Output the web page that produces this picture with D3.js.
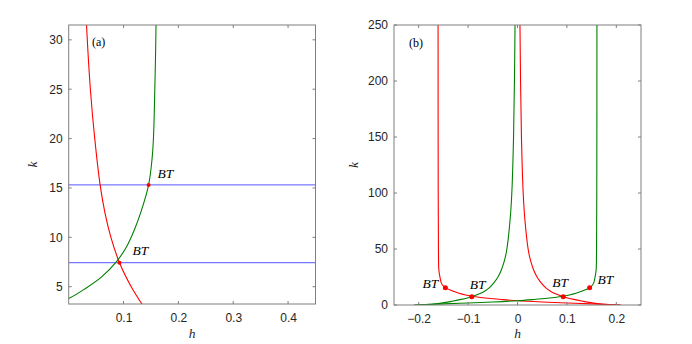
<!DOCTYPE html>
<html><head><meta charset="utf-8">
<script src="https://cdn.jsdelivr.net/npm/d3@7"></script>
<style>
body{margin:0;background:#fff;}
svg{display:block;}
.tick text{font-family:"Liberation Sans",Arial,sans-serif;font-size:12px;fill:#262626;}
</style></head>
<body><svg id="chart" width="692" height="344"></svg>
<script>
// ---- data (h, k) ----
const redRight = [[0.005,250],[0.0062,200],[0.008,150],[0.0115,100],[0.0152,75],[0.0215,50],[0.0262,40],[0.0325,31.5],[0.0395,25],[0.0475,20],[0.0573,15.31],[0.066,12.5],[0.077,10],[0.0926,7.43],[0.114,5],[0.1335,3.25],[0.148,2.1],[0.165,1.05],[0.185,0.35],[0.207,0]];
const greenRight = [[0.1608,250],[0.1605,100],[0.16,50],[0.1592,31.5],[0.157,25],[0.1545,20],[0.1518,17.84],[0.1457,15.31],[0.1325,12.7],[0.12,10.8],[0.105,9.0],[0.088,7.6],[0.06,6.0],[0.03,4.8],[0,3.8],[-0.05,2.7],[-0.1,1.85],[-0.15,1.0],[-0.21,0]];
const redLeft = [[-0.1608,250],[-0.1605,100],[-0.16,50],[-0.1592,31.5],[-0.157,25],[-0.1545,20],[-0.1518,17.84],[-0.1457,15.31],[-0.1325,12.7],[-0.12,10.8],[-0.105,9.0],[-0.088,7.6],[-0.06,6.0],[-0.03,4.8],[0,3.8],[0.05,2.7],[0.1,1.85],[0.15,1.0],[0.21,0]];
const greenLeft = [[-0.005,250],[-0.0062,200],[-0.008,150],[-0.0115,100],[-0.0152,75],[-0.0215,50],[-0.0262,40],[-0.0325,31.5],[-0.0395,25],[-0.0475,20],[-0.0573,15.31],[-0.066,12.5],[-0.077,10],[-0.0926,7.43],[-0.114,5],[-0.1335,3.25],[-0.148,2.1],[-0.165,1.05],[-0.185,0.35],[-0.207,0]];
const blueLevels = [7.43, 15.31];
const btA = [[0.0926,7.43],[0.1457,15.31]];
const btB = [[-0.146,15.31],[-0.0926,7.43],[0.0926,7.43],[0.146,15.31]];
const xTicksA = [0.1,0.2,0.3,0.4];
const yTicksA = [5,10,15,20,25,30];
const xTicksB = [-0.2,-0.1,0,0.1,0.2];
const yTicksB = [0,50,100,150,200,250];

const svg = d3.select("#chart");
const axisColor = "#7f7f7f";
const serif = "'Liberation Serif','Times New Roman',serif";

function panel(id, xr, yr, xd, yd, xt, yt, series, blue, bts, btOff, tag, tagPos, kOff){
  const x = d3.scaleLinear().domain(xd).range(xr);
  const y = d3.scaleLinear().domain(yd).range(yr);
  const g = svg.append("g");
  g.append("clipPath").attr("id","clip"+id).append("rect")
    .attr("x",xr[0]).attr("y",yr[1]).attr("width",xr[1]-xr[0]).attr("height",yr[0]-yr[1]);
  const plot = g.append("g").attr("clip-path","url(#clip"+id+")");
  const line = d3.line().x(d=>x(d[0])).y(d=>y(d[1])).curve(d3.curveCatmullRom.alpha(0.5));
  blue.forEach(v=>{
    plot.append("line").attr("x1",xr[0]).attr("x2",xr[1]).attr("y1",y(v)).attr("y2",y(v))
      .attr("stroke","#5555ff").attr("stroke-width",1);
  });
  series.forEach(s=>{
    plot.append("path").attr("d",line(s.data)).attr("fill","none")
      .attr("stroke",s.color).attr("stroke-width",1.1);
  });
  bts.forEach((p,i)=>{
    plot.append("circle").attr("cx",x(p[0])).attr("cy",y(p[1])).attr("r",id==="a"?2:2.5).attr("fill","#ff0000");
    g.append("text").attr("x",x(p[0])+btOff[i][0]).attr("y",y(p[1])+btOff[i][1])
      .attr("text-anchor",btOff[i][2]||"start")
      .attr("font-family",serif).attr("font-style","italic")
      .attr("font-size",13.5).attr("fill","#000").text("BT");
  });
  const tl = 3;
  const ax = g.append("g").attr("transform",`translate(0,${yr[0]})`)
    .call(d3.axisBottom(x).tickValues(xt).tickSize(0).tickPadding(9).tickFormat(d3.format("")));
  const ay = g.append("g").attr("transform",`translate(${xr[0]},0)`)
    .call(d3.axisLeft(y).tickValues(yt).tickSize(0).tickPadding(6).tickFormat(d3.format("")));
  [ax,ay].forEach(a=>a.select(".domain").remove());
  xt.forEach(v=>{
    g.append("line").attr("x1",x(v)).attr("x2",x(v)).attr("y1",yr[0]).attr("y2",yr[0]-tl).attr("stroke",axisColor);
    g.append("line").attr("x1",x(v)).attr("x2",x(v)).attr("y1",yr[1]).attr("y2",yr[1]+tl).attr("stroke",axisColor);
  });
  yt.forEach(v=>{
    g.append("line").attr("y1",y(v)).attr("y2",y(v)).attr("x1",xr[0]).attr("x2",xr[0]+tl).attr("stroke",axisColor);
    g.append("line").attr("y1",y(v)).attr("y2",y(v)).attr("x1",xr[1]).attr("x2",xr[1]-tl).attr("stroke",axisColor);
  });
  g.append("rect").attr("x",xr[0]).attr("y",yr[1]).attr("width",xr[1]-xr[0]).attr("height",yr[0]-yr[1])
    .attr("fill","none").attr("stroke",axisColor).attr("stroke-width",1);
  const cx = (xr[0]+xr[1])/2;
  g.append("text").attr("x",cx).attr("y",338).attr("text-anchor","middle")
    .attr("font-family",serif).attr("font-style","italic")
    .attr("font-size",13.5).attr("fill","#262626").text("h");
  g.append("text").attr("transform",`translate(${xr[0]-kOff},${(yr[0]+yr[1])/2}) rotate(-90)`).attr("text-anchor","middle")
    .attr("font-family",serif).attr("font-style","italic")
    .attr("font-size",13.5).attr("fill","#262626").text("k");
  g.append("text").attr("x",tagPos[0]).attr("y",tagPos[1])
    .attr("font-family",serif)
    .attr("font-size",12).attr("fill","#000").text(tag);
}

panel("a",[68.7,315.5],[304,25],[0,0.45],[3.25,31.5],xTicksA,yTicksA,
  [{data:redRight,color:"#ff0000"},{data:greenRight,color:"#008000"}],
  blueLevels, btA, [[13,-8],[9,-7]], "(a)", [92,46], 32);

panel("b",[394,641],[305,25],[-0.25,0.25],[0,250],xTicksB,yTicksB,
  [{data:redLeft,color:"#ff0000"},{data:redRight,color:"#ff0000"},{data:greenLeft,color:"#008000"},{data:greenRight,color:"#008000"}],
  [], btB, [[-7,0,"end"],[-2,-8],[-11,-10],[8,-4]], "(b)", [409,47], 36);
</script></body></html>
